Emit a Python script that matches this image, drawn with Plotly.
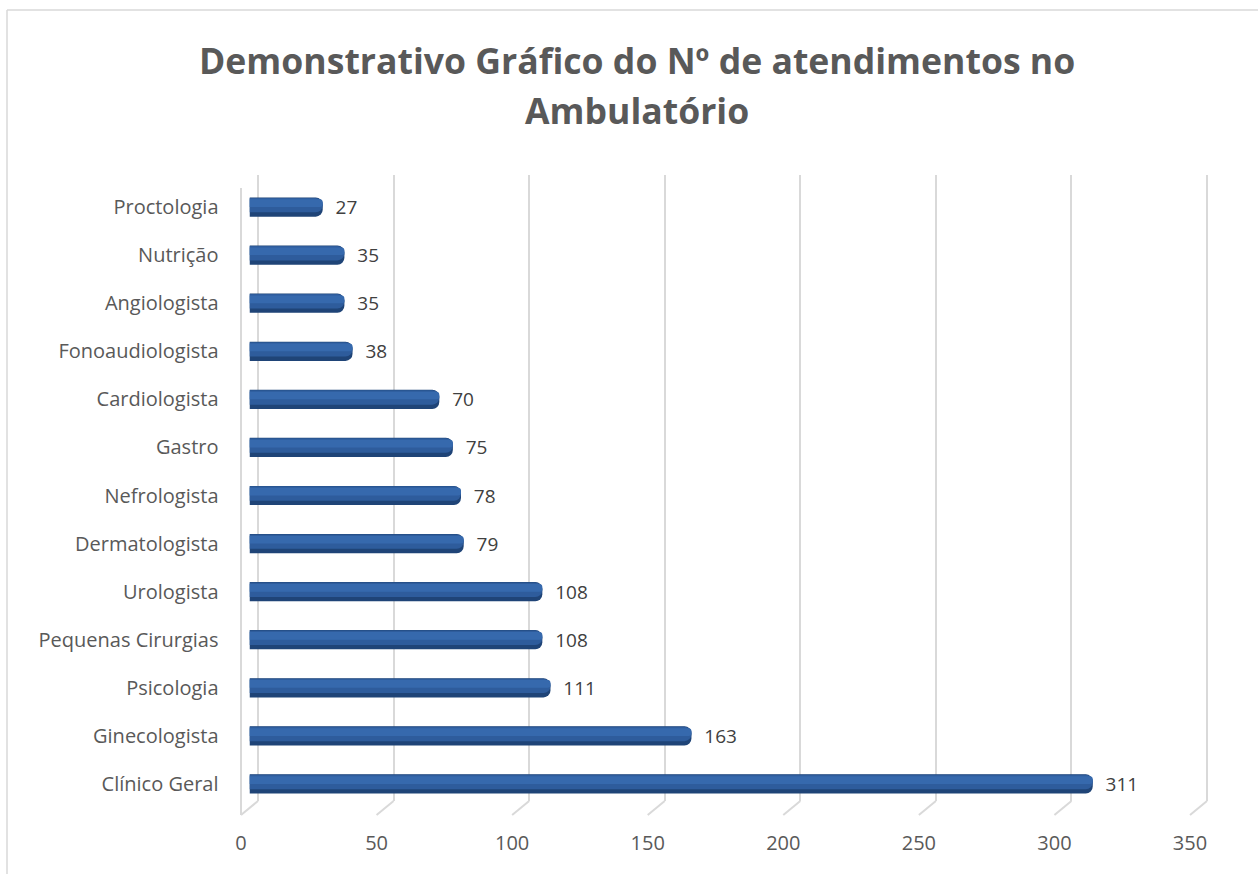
import plotly.graph_objects as go

# ---- data (bottom to top) ----
categories = ["Clínico Geral", "Ginecologista", "Psicologia", "Pequenas Cirurgias",
              "Urologista", "Dermatologista", "Nefrologista", "Gastro", "Cardiologista",
              "Fonoaudiologista", "Angiologista", "Nutrição", "Proctologia"]
values = [311, 163, 111, 108, 108, 79, 78, 75, 70, 38, 35, 35, 27]
x_ticks = [0, 50, 100, 150, 200, 250, 300, 350]
title_lines = ["Demonstrativo Gráfico do Nº de atendimentos no", "Ambulatório"]

W, H = 1258, 874
FONT = "Open Sans"
def fx(px): return px / W
def fy(py): return 1 - py / H

# planes (pixel geometry of a pseudo-3D Excel chart)
XMAX = 350
PX_PER_UNIT = (1207 - 258) / XMAX
BACK_X0 = 258
BACK_Y0, BACK_Y1 = 175, 801
MID_X0 = 249.5
MID_Y0, MID_Y1 = 183, 808
FRONT_X0 = 241
FRONT_Y = 815
PAD = 3  # extra data units on each side of the grid axis so edge gridlines render

def back_px(v): return BACK_X0 + PX_PER_UNIT * v
def front_px(v): return FRONT_X0 + PX_PER_UNIT * v

fig = go.Figure()

# invisible trace to create the back (grid) subplot
fig.add_trace(go.Scatter(x=[0], y=[0], xaxis="x", yaxis="y", mode="markers",
                         marker=dict(opacity=0), hoverinfo="skip", showlegend=False))

# cylinder-like bars on the middle plane
fig.add_trace(go.Bar(y=categories, x=values, orientation="h", xaxis="x2", yaxis="y2",
                     width=0.40, offset=-0.20, marker=dict(color="#1F4477", line=dict(width=0)),
                     text=["\u00a0\u00a0" + str(v) for v in values], textposition="outside",
                     constraintext="none",
                     textfont=dict(family=FONT, size=19, color="#404040"),
                     cliponaxis=False, showlegend=False, hoverinfo="x+y"))
fig.add_trace(go.Bar(y=categories, x=values, orientation="h", xaxis="x2", yaxis="y2",
                     width=0.30, offset=-0.11, marker=dict(color="#2E5C9C", line=dict(width=0)),
                     showlegend=False, hoverinfo="skip"))
fig.add_trace(go.Bar(y=categories, x=values, orientation="h", xaxis="x2", yaxis="y2",
                     width=0.16, offset=0.0, marker=dict(color="#3669AD", line=dict(width=0)),
                     showlegend=False, hoverinfo="skip"))

# a dummy trace to make the front axis (tick labels) render
fig.add_trace(go.Scatter(x=[0], y=[0], xaxis="x3", yaxis="y3", mode="markers",
                         marker=dict(opacity=0), hoverinfo="skip", showlegend=False))

shapes = []
# floor diagonals from back gridline bottoms to front
for t in x_ticks:
    shapes.append(dict(type="line", xref="paper", yref="paper", layer="below",
                       x0=fx(back_px(t)), y0=fy(BACK_Y1), x1=fx(front_px(t)), y1=fy(FRONT_Y),
                       line=dict(color="#D9D9D9", width=2)))
# front wall edge
shapes.append(dict(type="line", xref="paper", yref="paper", layer="below",
                   x0=fx(FRONT_X0), y0=fy(188), x1=fx(FRONT_X0), y1=fy(FRONT_Y),
                   line=dict(color="#D9D9D9", width=2)))
# chart border (only left and top edges are visible in the crop)
shapes.append(dict(type="line", xref="paper", yref="paper", layer="below",
                   x0=fx(7), y0=fy(10), x1=1, y1=fy(10),
                   line=dict(color="#D9D9D9", width=1.5)))
shapes.append(dict(type="line", xref="paper", yref="paper", layer="below",
                   x0=fx(7), y0=fy(10), x1=fx(7), y1=0,
                   line=dict(color="#D9D9D9", width=1.5)))

annotations = []
for i, line in enumerate(title_lines):
    annotations.append(dict(text=line, xref="paper", yref="paper",
                            x=fx(637), y=fy(60 + 50 * i), xanchor="center", yanchor="middle",
                            showarrow=False,
                            font=dict(family=FONT, size=35.6, color="#595959", weight="bold")))

fig.update_layout(
    width=W, height=H,
    margin=dict(l=0, r=0, t=0, b=0, autoexpand=False),
    paper_bgcolor="white", plot_bgcolor="rgba(0,0,0,0)",
    barmode="overlay", barcornerradius=7,
    showlegend=False,
    font=dict(family=FONT, color="#595959"),
    shapes=shapes,
    annotations=annotations,
    xaxis=dict(domain=[fx(back_px(-PAD)), fx(back_px(XMAX + PAD))], range=[-PAD, XMAX + PAD],
               tickvals=x_ticks, automargin=False,
               showgrid=True, gridcolor="#D9D9D9", gridwidth=2, showticklabels=False,
               zeroline=False, showline=False, ticks="", anchor="y"),
    yaxis=dict(domain=[fy(BACK_Y1), fy(BACK_Y0)], range=[0, 1], showgrid=False, automargin=False,
               showticklabels=False, zeroline=False, showline=False, ticks="", anchor="x"),
    xaxis2=dict(domain=[fx(MID_X0), fx(MID_X0 + PX_PER_UNIT * XMAX)], range=[0, XMAX],
                showgrid=False, showticklabels=False, zeroline=False, showline=False,
                ticks="", anchor="y2", automargin=False),
    yaxis2=dict(domain=[fy(MID_Y1), fy(MID_Y0)], type="category", categoryorder="array",
                categoryarray=categories, range=[-0.5, len(categories) - 0.5],
                showgrid=False, zeroline=False, showline=False, automargin=False,
                ticks="", ticklabelstandoff=30, anchor="x2",
                tickfont=dict(family=FONT, size=20, color="#595959")),
    xaxis3=dict(domain=[fx(FRONT_X0), fx(front_px(XMAX))], range=[0, XMAX], tickvals=x_ticks,
                anchor="y3", side="bottom", automargin=False,
                showgrid=False, zeroline=False, showline=False, ticks="",
                ticklabelstandoff=14, tickfont=dict(family=FONT, size=20, color="#595959")),
    yaxis3=dict(domain=[fy(FRONT_Y), fy(FRONT_Y - 5)], range=[0, 1], anchor="x3",
                showgrid=False, showticklabels=False, zeroline=False, showline=False,
                ticks="", automargin=False),
)

fig.write_html(
    "out.html",
    config={"displayModeBar": False},
    post_script=("document.documentElement.style.margin='0';"
                 "document.documentElement.style.overflow='hidden';"
                 "document.body.style.margin='0';"
                 "document.body.style.overflow='hidden';"),
)
